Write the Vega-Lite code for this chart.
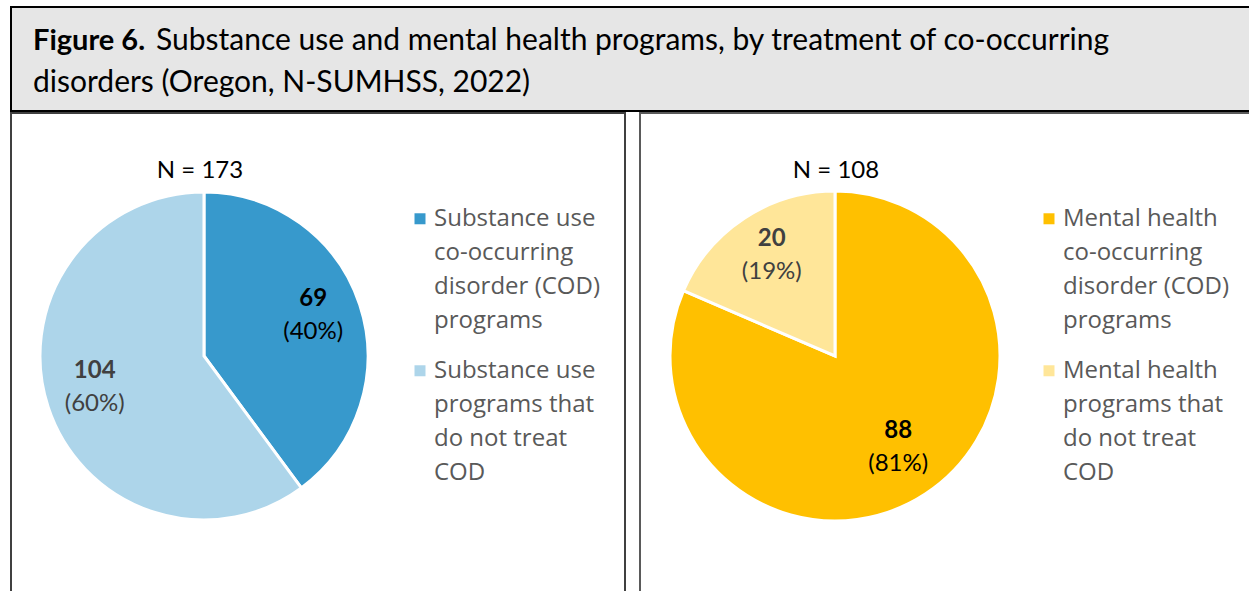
{
  "$schema": "https://vega.github.io/schema/vega-lite/v6.json",
  "autosize": "none",
  "padding": {"left": 11, "top": 7, "right": 1238, "bottom": 584},
  "background": "white",
  "config": {
    "font": "Lato",
    "concat": {"spacing": 0},
    "style": {"guide-label": {"lineHeight": 34}}
  },
  "title": {
    "text": "Figure 6.",
    "subtitle": "disorders (Oregon, N-SUMHSS, 2022)",
    "anchor": "start",
    "frame": "group",
    "orient": "top",
    "offset": -92,
    "dx": 22,
    "font": "Lato",
    "fontSize": 29,
    "fontWeight": "bold",
    "color": "black",
    "subtitleFont": "Lato",
    "subtitleFontSize": 30,
    "subtitleColor": "black",
    "subtitlePadding": 12
  },
  "vconcat": [
    {
      "width": 1250,
      "height": 104,
      "data": {"values": []},
      "mark": "rect",
      "view": {"fill": "#E6E6E6", "stroke": "black", "strokeWidth": 2},
      "title": {
        "text": "Substance use and mental health programs, by treatment of co-occurring",
        "anchor": "start",
        "frame": "group",
        "offset": -49,
        "dx": 145,
        "font": "Lato",
        "fontSize": 30,
        "fontWeight": "normal",
        "color": "black"
      }
    },
    {
      "spacing": 13,
      "hconcat": [
        {
          "width": 614,
          "height": 486,
          "view": {"stroke": "#404040", "strokeWidth": 2},
          "title": {"text": "N = 173", "anchor": "middle", "frame": "group", "offset": -70, "dx": -118, "font": "Lato", "fontSize": 24, "fontWeight": "normal", "color": "black"},
          "data": {"values": [
            {"setting": "Substance use", "program": "Substance use co-occurring disorder (COD) programs", "treatsCOD": "yes", "count": 69, "pct": "(40%)"},
            {"setting": "Substance use", "program": "Substance use programs that do not treat COD", "treatsCOD": "no", "count": 104, "pct": "(60%)"}
          ]},
          "encoding": {
            "x": {"field": "setting", "type": "nominal", "axis": null, "scale": {"type": "point", "align": 0.3143}},
            "theta": {"field": "count", "type": "quantitative", "stack": true},
            "order": {"field": "treatsCOD", "sort": "descending"},
            "detail": {"field": "program"}
          },
          "layer": [
            {
              "mark": {"type": "arc", "outerRadius": 164, "stroke": "white", "strokeWidth": 3},
              "encoding": {
                "color": {
                  "field": "program", "type": "nominal",
                  "scale": {"domain": ["Substance use co-occurring disorder (COD) programs", "Substance use programs that do not treat COD"], "range": ["#3799CC", "#ADD5EA"]},
                  "legend": {
                    "orient": "none", "legendX": 397, "legendY": 82, "title": null,
                    "symbolType": "M-1,1.14H1V3.14H-1Z", "symbolSize": 121, "symbolStrokeWidth": 0,
                    "labelFont": "Open Sans", "labelFontSize": 24, "labelColor": "#595959",
                    "labelBaseline": "top", "labelLimit": 0, "labelOffset": 2, "rowPadding": 14,
                    "labelExpr": "datum.label == 'Substance use co-occurring disorder (COD) programs' ? ['Substance use', 'co-occurring', 'disorder (COD)', 'programs'] : ['Substance use', 'programs that', 'do not treat', 'COD']"
                  }
                }
              }
            },
            {
              "mark": {"type": "text", "radius": 115, "dy": -21, "font": "Lato", "fontSize": 24, "fontWeight": "bold"},
              "encoding": {
                "text": {"field": "count"},
                "color": {"condition": {"test": "datum.treatsCOD === 'yes'", "value": "black"}, "value": "#404040"}
              }
            },
            {
              "mark": {"type": "text", "radius": 115, "dy": 12, "font": "Lato", "fontSize": 24},
              "encoding": {
                "text": {"field": "pct"},
                "color": {"condition": {"test": "datum.treatsCOD === 'yes'", "value": "black"}, "value": "#404040"}
              }
            }
          ]
        },
        {
          "width": 620,
          "height": 486,
          "view": {"stroke": "#5a5a5a", "strokeWidth": 2},
          "title": {"text": "N = 108", "anchor": "middle", "frame": "group", "offset": -70, "dx": -114, "font": "Lato", "fontSize": 24, "fontWeight": "normal", "color": "black"},
          "data": {"values": [
            {"setting": "Mental health", "program": "Mental health co-occurring disorder (COD) programs", "treatsCOD": "yes", "count": 88, "pct": "(81%)"},
            {"setting": "Mental health", "program": "Mental health programs that do not treat COD", "treatsCOD": "no", "count": 20, "pct": "(19%)"}
          ]},
          "encoding": {
            "x": {"field": "setting", "type": "nominal", "axis": null, "scale": {"type": "point", "align": 0.3145}},
            "theta": {"field": "count", "type": "quantitative", "stack": true},
            "order": {"field": "treatsCOD", "sort": "descending"},
            "detail": {"field": "program"}
          },
          "layer": [
            {
              "mark": {"type": "arc", "outerRadius": 165, "stroke": "white", "strokeWidth": 3},
              "encoding": {
                "color": {
                  "field": "program", "type": "nominal",
                  "scale": {"domain": ["Mental health co-occurring disorder (COD) programs", "Mental health programs that do not treat COD"], "range": ["#FFC000", "#FFE699"]},
                  "legend": {
                    "orient": "none", "legendX": 397, "legendY": 82, "title": null,
                    "symbolType": "M-1,1.14H1V3.14H-1Z", "symbolSize": 121, "symbolStrokeWidth": 0,
                    "labelFont": "Open Sans", "labelFontSize": 24, "labelColor": "#595959",
                    "labelBaseline": "top", "labelLimit": 0, "labelOffset": 2, "rowPadding": 14,
                    "labelExpr": "datum.label == 'Mental health co-occurring disorder (COD) programs' ? ['Mental health', 'co-occurring', 'disorder (COD)', 'programs'] : ['Mental health', 'programs that', 'do not treat', 'COD']"
                  }
                }
              }
            },
            {
              "mark": {"type": "text", "radius": 115, "dy": -21, "font": "Lato", "fontSize": 24, "fontWeight": "bold"},
              "encoding": {
                "text": {"field": "count"},
                "color": {"condition": {"test": "datum.treatsCOD === 'yes'", "value": "black"}, "value": "#404040"}
              }
            },
            {
              "mark": {"type": "text", "radius": 115, "dy": 12, "font": "Lato", "fontSize": 24},
              "encoding": {
                "text": {"field": "pct"},
                "color": {"condition": {"test": "datum.treatsCOD === 'yes'", "value": "black"}, "value": "#404040"}
              }
            }
          ]
        }
      ],
      "resolve": {"scale": {"color": "independent", "x": "independent", "theta": "independent"}}
    }
  ]
}
